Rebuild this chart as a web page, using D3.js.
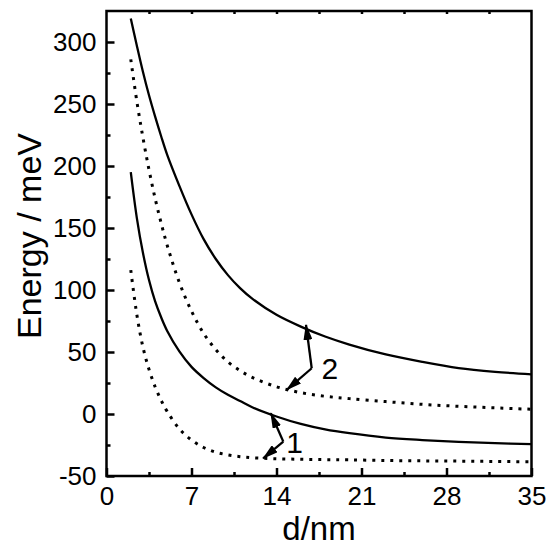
<!DOCTYPE html>
<html>
<head>
<meta charset="utf-8">
<title>Energy vs d</title>
<style>
  * { margin: 0; padding: 0; }
  body { background: #fff; }
  svg { display: block; }
  text { font-family: Arial, "Liberation Sans", sans-serif; fill: #000; }
</style>
</head>
<body>
<div id="chart"></div>
<script src="https://cdn.jsdelivr.net/npm/d3@7/dist/d3.min.js"></script>
<script>
// d in nm
var dValues = [2, 2.5, 3, 3.5, 4, 4.5, 5, 6, 7, 8, 9, 10, 11, 12, 14, 16, 18, 20, 23, 26, 29, 32, 35];
// energies in meV
var level2Solid = [319, 297, 276, 257, 240, 224, 209, 184, 161, 141, 125, 112, 101.5, 93, 80, 70.5, 62.5, 56, 48, 42, 37, 34, 32];
var level2Dotted = [286, 252, 223, 197, 174, 154, 136, 106, 83, 65, 52, 42, 35, 29.5, 22, 17.2, 14.3, 12.4, 10, 7.8, 6.2, 5, 3.8];
var level1Solid = [195, 158, 130, 108, 91, 78, 67, 50.5, 38, 29, 21.5, 15.5, 10.5, 5.5, -2, -8, -12.4, -15.5, -19, -21, -22.5, -23.5, -24.3];
var level1Dotted = [116, 80, 54, 36, 22, 11, 2, -12, -21, -27, -30.8, -33, -34.4, -35.3, -36.1, -36.5, -36.8, -37, -37.5, -37.8, -38, -38.3, -38.5];

var xTicks = [0, 7, 14, 21, 28, 35];
var yTicks = [-50, 0, 50, 100, 150, 200, 250, 300];

// arrows: [lower tip, bend, upper tip] in data units
var arrow1 = [[12.9, -35.7], [14.56, -22.3], [13.53, 0.6]];
var arrow2 = [[14.84, 19.4], [16.9, 36.9], [16.43, 71.8]];
var arrowLabels = [{t: "1", d: 15.5, e: -22.6}, {t: "2", d: 18.4, e: 37}];

var width = 553, height = 546;
var margin = {top: 11, right: 21.5, bottom: 70, left: 106.5};
var w = width - margin.left - margin.right;
var h = height - margin.top - margin.bottom;

var svg = d3.select("#chart").append("svg")
    .attr("width", width)
    .attr("height", height);

var g = svg.append("g").attr("transform", "translate(" + margin.left + "," + margin.top + ")");

var x = d3.scaleLinear().domain([0, 35]).range([0, w]);
var y = d3.scaleLinear().domain([-50, 325]).range([h, 0]);

var plain = function (d) { return String(d); };   // hyphen, not unicode minus

// minor ticks
g.append("g").attr("class", "minor")
    .attr("transform", "translate(0," + h + ")")
    .call(d3.axisBottom(x).tickValues(d3.range(3.5, 35, 7)).tickSize(-4).tickFormat(""));
g.append("g").attr("class", "minor")
    .call(d3.axisLeft(y).tickValues(d3.range(-25, 325, 50)).tickSize(-4).tickFormat(""));
g.append("g").attr("class", "minor")
    .call(d3.axisTop(x).tickValues(d3.range(3.5, 35, 3.5)).tickSize(-3).tickFormat(""));

// major ticks
g.append("g").attr("class", "major")
    .attr("transform", "translate(0," + h + ")")
    .call(d3.axisBottom(x).tickValues(xTicks).tickSize(-8).tickPadding(11).tickFormat(plain));
g.append("g").attr("class", "major")
    .call(d3.axisLeft(y).tickValues(yTicks).tickSize(-8).tickPadding(10).tickFormat(plain));

g.selectAll(".minor .domain, .major .domain").remove();
g.selectAll(".tick line").attr("stroke", "#000").attr("stroke-width", 2.5);
g.selectAll(".major text").style("font-size", "26px").attr("fill", "#000");

// frame
g.append("rect")
    .attr("width", w)
    .attr("height", h)
    .attr("fill", "none")
    .attr("stroke", "#000")
    .attr("stroke-width", 2.5);

// curves
var line = d3.line()
    .x(function (d) { return x(d[0]); })
    .y(function (d) { return y(d[1]); })
    .curve(d3.curveCatmullRom.alpha(0.5));

function pairs(vals) {
    return dValues.map(function (d, i) { return [d, vals[i]]; });
}

var series = [
    {vals: level2Solid, dash: null},
    {vals: level2Dotted, dash: "3,6"},
    {vals: level1Solid, dash: null},
    {vals: level1Dotted, dash: "3,6"}
];

series.forEach(function (s) {
    g.append("path")
        .attr("d", line(pairs(s.vals)))
        .attr("fill", "none")
        .attr("stroke", "#000")
        .attr("stroke-width", s.dash ? 3 : 2.3)
        .attr("stroke-dasharray", s.dash);
});

// arrows
svg.append("defs").append("marker")
    .attr("id", "head")
    .attr("markerUnits", "userSpaceOnUse")
    .attr("viewBox", "0 0 16 9")
    .attr("refX", 15)
    .attr("refY", 4.5)
    .attr("markerWidth", 16)
    .attr("markerHeight", 9)
    .attr("orient", "auto")
    .append("path")
    .attr("d", "M0,0 L16,4.5 L0,9 Z")
    .attr("fill", "#000");

[arrow1, arrow2].forEach(function (a) {
    [a[0], a[2]].forEach(function (tip) {
        g.append("line")
            .attr("x1", x(a[1][0])).attr("y1", y(a[1][1]))
            .attr("x2", x(tip[0])).attr("y2", y(tip[1]))
            .attr("stroke", "#000")
            .attr("stroke-width", 2.3)
            .attr("marker-end", "url(#head)");
    });
});

g.selectAll(".alabel")
    .data(arrowLabels)
    .enter()
    .append("text")
    .attr("class", "alabel")
    .attr("x", function (d) { return x(d.d); })
    .attr("y", function (d) { return y(d.e); })
    .attr("dy", "0.36em")
    .attr("text-anchor", "middle")
    .style("font-size", "30px")
    .text(function (d) { return d.t; });

// axis titles
svg.append("text")
    .attr("x", margin.left + w / 2)
    .attr("y", 540)
    .attr("text-anchor", "middle")
    .style("font-size", "33px")
    .text("d/nm");

svg.append("text")
    .attr("transform", "translate(41,236) rotate(-90)")
    .attr("text-anchor", "middle")
    .style("font-size", "34px")
    .text("Energy / meV");
</script>
</body>
</html>
